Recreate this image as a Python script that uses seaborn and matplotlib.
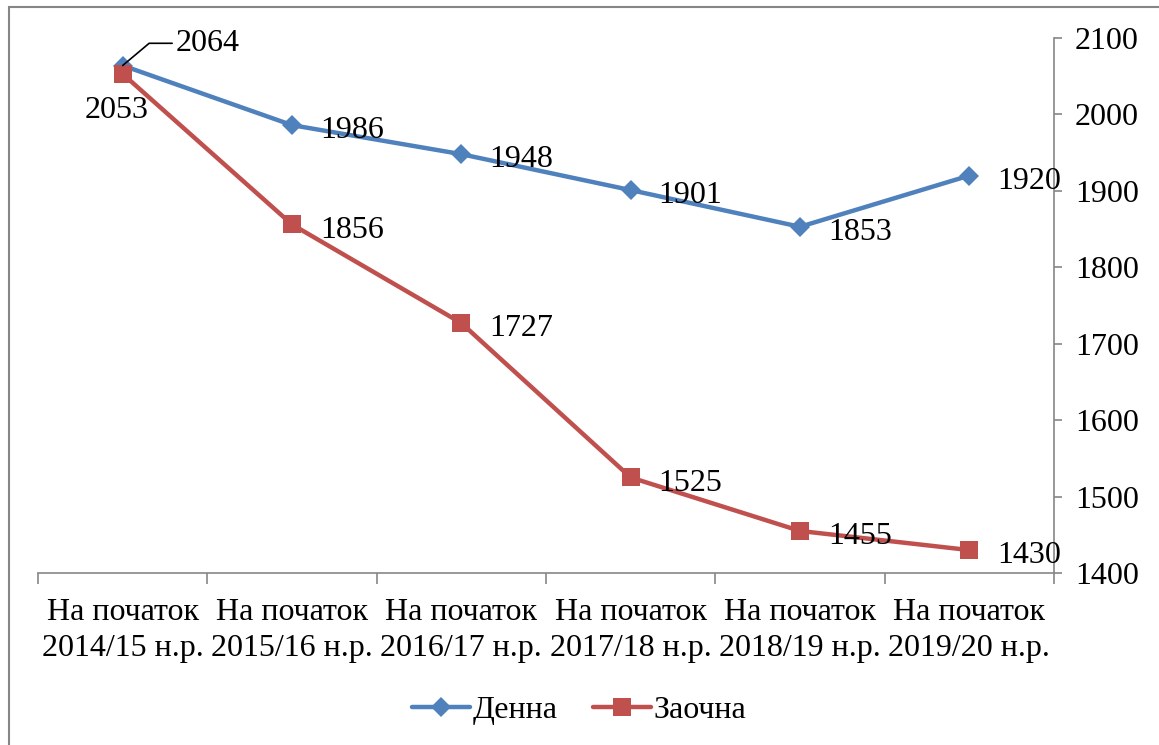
import pandas as pd
import seaborn as sns
import matplotlib.pyplot as plt
from matplotlib.patches import Rectangle

# data
periods = ['На початок\n2014/15 н.р.', 'На початок\n2015/16 н.р.', 'На початок\n2016/17 н.р.',
           'На початок\n2017/18 н.р.', 'На початок\n2018/19 н.р.', 'На початок\n2019/20 н.р.']
denna = [2064, 1986, 1948, 1901, 1853, 1920]
zaochna = [2053, 1856, 1727, 1525, 1455, 1430]
y_ticks = [1400, 1500, 1600, 1700, 1800, 1900, 2000, 2100]

blue = '#4F81BD'
red = '#C0504D'
grey = '#868686'
fs = 23

sns.set_style('white')
plt.rcParams['font.family'] = ['Liberation Serif', 'DejaVu Serif']
plt.rcParams['font.size'] = fs
plt.rcParams['text.color'] = 'black'
plt.rcParams['xtick.color'] = 'black'
plt.rcParams['ytick.color'] = 'black'

df = pd.DataFrame({'pos': range(len(periods)), 'Денна': denna, 'Заочна': zaochna})

fig = plt.figure(figsize=(11.59, 7.45), dpi=100)
ax = fig.add_axes([38 / 1159, 1 - 573 / 745, (1054 - 38) / 1159, (573 - 38) / 745])

sns.lineplot(data=df, x='pos', y='Денна', color=blue, linewidth=3.2, marker='D',
             markersize=10, markeredgewidth=0, label='Денна', ax=ax)
sns.lineplot(data=df, x='pos', y='Заочна', color=red, linewidth=3.2, marker='s',
             markersize=13, markeredgewidth=0, label='Заочна', ax=ax)

# value labels
for i, v in enumerate(denna):
    if i == 0:
        ax.annotate(str(v), xy=(i, v), xytext=(38, 16), textcoords='offset points',
                    ha='left', va='center', fontsize=fs,
                    arrowprops=dict(arrowstyle='-', color='black', lw=1.2,
                                    connectionstyle='angle,angleA=0,angleB=40,rad=0',
                                    shrinkA=0, shrinkB=0))
    else:
        ax.annotate(str(v), xy=(i, v), xytext=(20, -4), textcoords='offset points',
                    ha='left', va='center', fontsize=fs)
for i, v in enumerate(zaochna):
    if i == 0:
        ax.annotate(str(v), xy=(i, v), xytext=(-4, -26), textcoords='offset points',
                    ha='center', va='center', fontsize=fs)
    else:
        ax.annotate(str(v), xy=(i, v), xytext=(20, -4), textcoords='offset points',
                    ha='left', va='center', fontsize=fs)

ax.set_xlim(-0.5, len(periods) - 0.5)
ax.set_ylim(1400, 2100)
ax.set_yticks(y_ticks)
ax.yaxis.tick_right()
ax.set_xticks(range(len(periods)))
ax.set_xticklabels(periods, fontsize=fs, linespacing=1.3)
ax.set_xticks([x - 0.5 for x in range(len(periods) + 1)], minor=True)
ax.tick_params(axis='x', which='major', length=0, pad=18)
ax.tick_params(axis='x', which='minor', bottom=True, length=8, width=1.2, color=grey,
               direction='out')
ax.tick_params(axis='y', length=6, width=1.2, color=grey, direction='out', pad=9, labelsize=fs)
ax.set_xlabel('')
ax.set_ylabel('')
for side in ['left', 'top']:
    ax.spines[side].set_visible(False)
for side in ['right', 'bottom']:
    ax.spines[side].set_color(grey)
    ax.spines[side].set_linewidth(1.2)

ax.legend(loc='center', bbox_to_anchor=(0.5, (745 - 710) / 745), bbox_transform=fig.transFigure,
          ncol=2, frameon=False, fontsize=fs, handlelength=1.8, handletextpad=0.1,
          columnspacing=1.1)

fig.patches.append(Rectangle((9 / 1159, -0.05), 1.1, 1 - 7 / 745 + 0.05, transform=fig.transFigure,
                             fill=False, edgecolor=grey, linewidth=1.5))

fig.savefig('out.png', dpi=100)
